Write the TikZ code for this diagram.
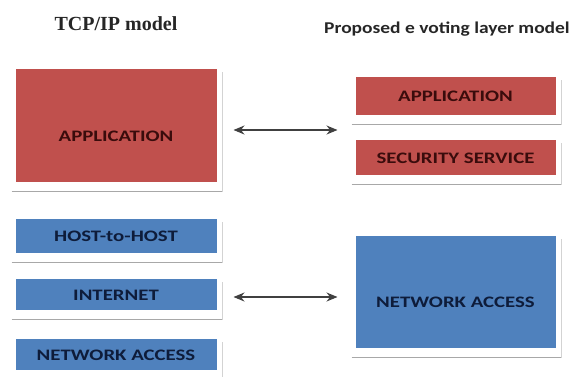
\documentclass[tikz,border=0pt]{standalone}
\usepackage{fontspec}
\setmainfont{Liberation Serif}
\newfontfamily\boxfont[FakeStretch=1.3]{Carlito}
\newfontfamily\titlefont[FakeStretch=1.18]{Carlito}
\usetikzlibrary{calc,arrows.meta}

\definecolor{layerred}{HTML}{C0504D}
\definecolor{layerblue}{HTML}{4F81BD}
\definecolor{redtext}{HTML}{3A0C0C}
\definecolor{bluetext}{HTML}{0E1C3A}
\definecolor{shadowgray}{HTML}{A8A8A8}

\tikzset{
  layer/.style={draw=white, line width=1pt, inner sep=0pt, minimum width=202pt,
    text height=15pt, text depth=3pt,
    font=\boxfont\bfseries\fontsize{16}{18}\selectfont},
  biglayer/.style={text height=35pt},
  redlayer/.style={layer, fill=layerred, text=redtext},
  bluelayer/.style={layer, fill=layerblue, text=bluetext},
  biarrow/.style={{Stealth[length=11pt,width=9pt]}-{Stealth[length=11pt,width=9pt]},
    line width=1.1pt, color=black!75},
}

\begin{document}
\begin{tikzpicture}[x=1pt, y=-1pt]
  \useasboundingbox (0, 0) rectangle (576, 376);

  \node[text=black!85] (ttitle) at (116, 24) {\bfseries\fontsize{20}{22}\selectfont TCP/IP model};
  \node[text=black!85] (ptitle) at (447, 29) {\titlefont\bfseries\fontsize{16.5}{19}\selectfont Proposed e voting layer model};

  % TCP/IP model
  \node[redlayer, biglayer, minimum height=114pt] (tapp) at (116, 125) {APPLICATION};
  \node[bluelayer, minimum height=35pt] (thost) at (116, 235.5) {HOST-to-HOST};
  \node[bluelayer, minimum height=32pt] (tinet) at (116, 294)   {INTERNET};
  \node[bluelayer, minimum height=32pt] (tnet)  at (116, 354)   {NETWORK ACCESS};

  % proposed model
  \node[redlayer, minimum height=39pt, minimum width=201pt] (papp) at (455.5, 95.5) {APPLICATION};
  \node[redlayer, minimum height=36pt, minimum width=201pt] (psec) at (455.5, 157)  {SECURITY SERVICE};
  \node[bluelayer, biglayer, minimum height=113pt, minimum width=201pt] (pnet) at (455.5, 291.5) {NETWORK ACCESS};

  % shadow lines
  \foreach \b in {tapp, thost, tinet, tnet, papp, psec, pnet} {
    \draw[shadowgray, line width=1.5pt]
      ($(\b.south west)+(-3, 9)$) -- ($(\b.south east)+(5, 9)$);
    \draw[shadowgray!50, line width=1pt]
      ($(\b.south east)+(5, 9)$) -- ($(\b.north east)+(5, 4)$);
  }

  \draw[biarrow] ($(tapp.east)+(16, 5)$)  -- ($(tapp.east -| papp.west)+(-17, 5)$);
  \draw[biarrow] ($(tinet.east)+(16, 3)$) -- ($(tinet.east -| pnet.west)+(-17, 3)$);

\end{tikzpicture}
\end{document}
